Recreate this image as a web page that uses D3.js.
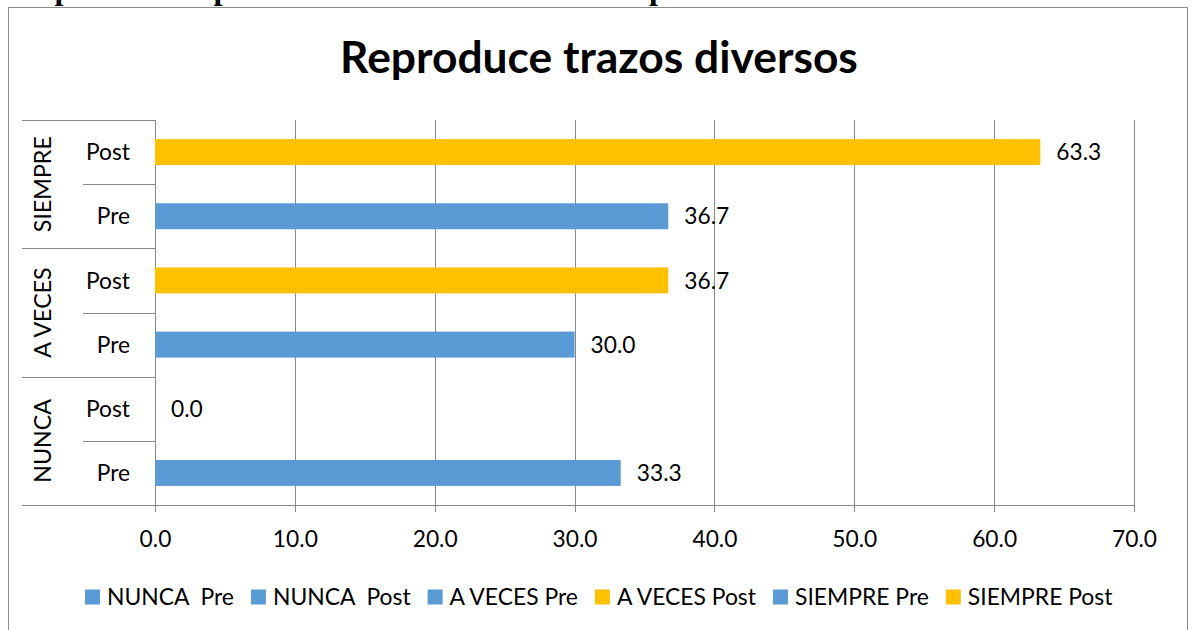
<!DOCTYPE html>
<html>
<head>
<meta charset="utf-8">
<script src="https://cdn.jsdelivr.net/npm/d3@7/dist/d3.min.js"></script>
<style>
  html, body { margin: 0; padding: 0; background: #fff; }
  svg { display: block; }
  text { white-space: pre; }
</style>
</head>
<body>
<script>
// ---- data ----
const chartTitle = "Reproduce trazos diversos";
const captionText = "después de la aplicación del material didáctico por indicadores";
const groups = ["NUNCA", "A VECES", "SIEMPRE"];
const phases = ["Pre", "Post"];
const seriesNames = ["NUNCA  Pre", "NUNCA  Post", "A VECES Pre", "A VECES Post", "SIEMPRE Pre", "SIEMPRE Post"];
const seriesGroup = ["NUNCA", "NUNCA", "A VECES", "A VECES", "SIEMPRE", "SIEMPRE"];
const seriesPhase = ["Pre", "Post", "Pre", "Post", "Pre", "Post"];
const seriesValues = [33.3, 0.0, 30.0, 36.7, 36.7, 63.3];
const seriesColors = ["#5B9BD5", "#5B9BD5", "#5B9BD5", "#FFC000", "#5B9BD5", "#FFC000"];
const tickValues = [0, 10, 20, 30, 40, 50, 60, 70];
const tickLabels = ["0.0", "10.0", "20.0", "30.0", "40.0", "50.0", "60.0", "70.0"];

// ---- layout ----
const W = 1195, H = 630;
const FONT = "Lato, 'Open Sans', sans-serif";
const svg = d3.select("body").append("svg").attr("width", W).attr("height", H);

function fit(str, weight, family, target) {
  const t = svg.append("text").attr("font-family", family).attr("font-weight", weight)
    .attr("font-size", 100).text(str);
  const w = t.node().getComputedTextLength();
  t.remove();
  return 100 * target / w;
}

// caption (clipped at top)
svg.append("text")
  .attr("x", 10).attr("y", -1)
  .attr("font-family", "'Liberation Serif', 'Times New Roman', serif")
  .attr("font-weight", "bold").attr("font-size", 32)
  .attr("fill", "#000")
  .text(captionText);

// outer border
svg.append("rect").attr("x", 8.5).attr("y", 7.5).attr("width", 1179).attr("height", 640)
  .attr("fill", "#fff").attr("stroke", "#8c8c8c").attr("stroke-width", 1);

const plot = { left: 155, right: 1134, top: 120, bottom: 505 };

const x = d3.scaleLinear().domain([0, 70]).range([plot.left, plot.right]);

// categories top-to-bottom: reverse of series order
const catKeys = seriesNames.map((d, i) => i).reverse();
const y = d3.scaleBand().domain(catKeys).range([plot.top, plot.bottom]).paddingInner(0.595).paddingOuter(0.2975);

const baseSize = fit("SIEMPRE", "normal", FONT, 96);
const tickSize = fit("10.0", "normal", FONT, 45);
const legendSize = fit("NUNCA  Pre", "normal", FONT, 127);
const titleSize = fit(chartTitle, "bold", FONT, 518);

// title
svg.append("text").attr("x", 599).attr("y", 73).attr("text-anchor", "middle")
  .attr("font-family", FONT).attr("font-weight", "bold").attr("font-size", titleSize)
  .attr("fill", "#000").text(chartTitle);

const lineColor = "#898989";

// gridlines (with tick extension)
const xAxis = d3.axisBottom(x).tickValues(tickValues).tickFormat((d, i) => tickLabels[i])
  .tickSize(-(plot.bottom - plot.top)).tickPadding(0);
const gx = svg.append("g").attr("transform", `translate(0,${plot.bottom})`).call(xAxis);
gx.select(".domain").remove();
gx.selectAll(".tick line").attr("stroke", lineColor).attr("y1", 7).attr("shape-rendering", "crispEdges");
gx.selectAll(".tick text").attr("font-family", FONT).attr("font-size", tickSize).attr("fill", "#000")
  .attr("dy", null).attr("y", 42);

// bottom axis line
svg.append("line").attr("x1", 22).attr("x2", plot.right).attr("y1", plot.bottom).attr("y2", plot.bottom)
  .attr("stroke", lineColor).attr("shape-rendering", "crispEdges");
// left axis line
svg.append("line").attr("x1", plot.left).attr("x2", plot.left).attr("y1", plot.top).attr("y2", plot.bottom + 7)
  .attr("stroke", lineColor).attr("shape-rendering", "crispEdges");

// category separators
catKeys.forEach((k, idx) => {
  const yTop = plot.top + idx * (plot.bottom - plot.top) / catKeys.length;
  const isGroupTop = idx % 2 === 0;
  svg.append("line").attr("x1", isGroupTop ? 22 : 83).attr("x2", plot.left)
    .attr("y1", Math.round(yTop) + 0.5).attr("y2", Math.round(yTop) + 0.5)
    .attr("stroke", lineColor);
});

// bars
svg.append("g").selectAll("rect").data(catKeys).join("rect")
  .attr("x", x(0))
  .attr("y", k => y(k))
  .attr("width", k => x(seriesValues[k]) - x(0))
  .attr("height", y.bandwidth())
  .attr("fill", k => seriesColors[k]);

// value labels
svg.append("g").selectAll("text").data(catKeys).join("text")
  .attr("x", k => x(seriesValues[k]) + 16)
  .attr("y", k => y(k) + y.bandwidth() / 2)
  .attr("dy", "0.36em")
  .attr("font-family", FONT).attr("font-size", tickSize).attr("fill", "#000")
  .text(k => seriesValues[k].toFixed(1));

// phase labels
const bandH = (plot.bottom - plot.top) / catKeys.length;
svg.append("g").selectAll("text").data(catKeys).join("text")
  .attr("x", 130)
  .attr("y", (k, i) => plot.top + (i + 0.5) * bandH)
  .attr("dy", "0.36em").attr("text-anchor", "end")
  .attr("font-family", FONT).attr("font-size", tickSize).attr("fill", "#000")
  .text(k => seriesPhase[k]);

// group labels (rotated)
const groupOrder = groups.slice().reverse();
svg.append("g").selectAll("text").data(groupOrder).join("text")
  .attr("transform", (g, i) => `translate(42.5,${plot.top + (i + 0.5) * 2 * bandH}) rotate(-90)`)
  .attr("dy", "0.36em").attr("text-anchor", "middle")
  .attr("font-family", FONT).attr("font-size", baseSize).attr("fill", "#000")
  .text(g => g);

// legend
const leg = svg.append("g");
let lx = 85;
const legY = 597;
seriesNames.forEach((name, i) => {
  leg.append("rect").attr("x", lx).attr("y", legY - 7.5).attr("width", 15).attr("height", 15)
    .attr("fill", seriesColors[i]);
  const t = leg.append("text").attr("x", lx + 22).attr("y", legY).attr("dy", "0.36em")
    .attr("font-family", FONT).attr("font-size", legendSize).attr("fill", "#000").text(name);
  lx += 22 + t.node().getComputedTextLength() + 17;
});
</script>
</body>
</html>
